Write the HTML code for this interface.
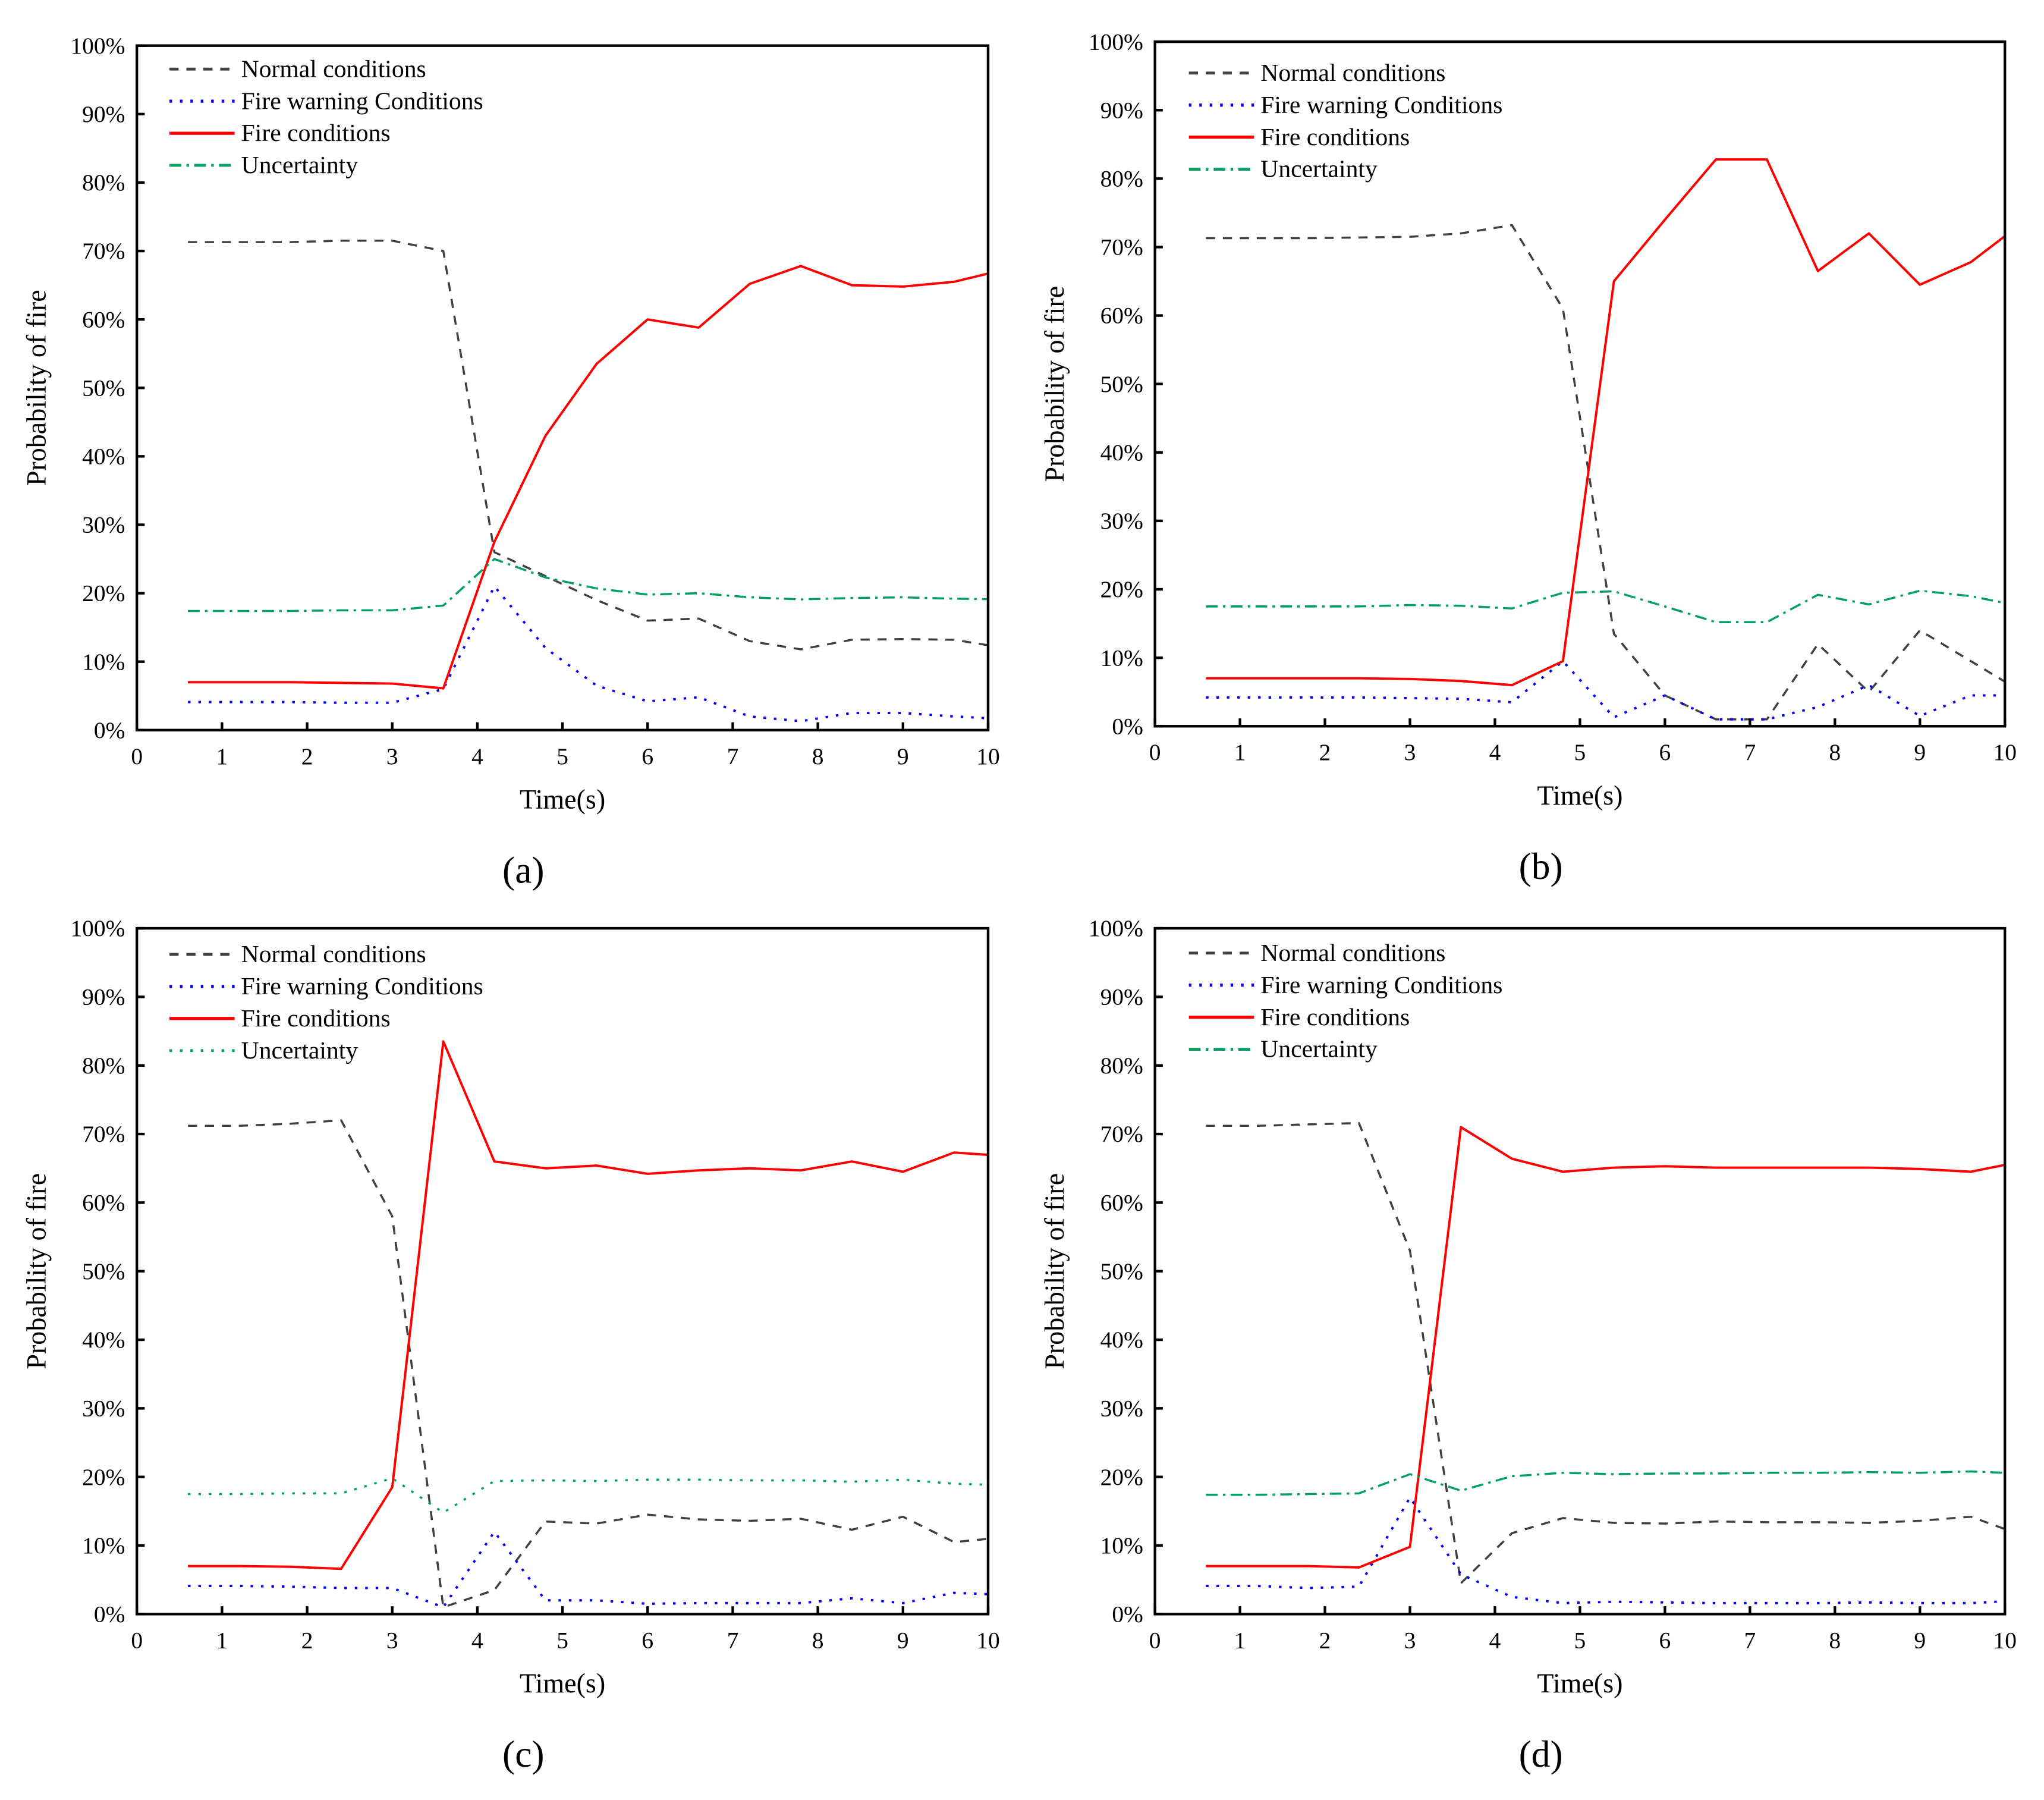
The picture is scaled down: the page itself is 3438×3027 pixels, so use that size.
<!DOCTYPE html>
<html><head><meta charset="utf-8"><style>
html,body{margin:0;padding:0;background:#fff;}
svg{display:block;font-family:"Liberation Serif",serif;}
svg text{font-family:"Liberation Serif",serif;}
</style></head><body>
<svg id="fig" width="3438" height="3027" viewBox="0 0 1568 1380.6" preserveAspectRatio="none" xmlns="http://www.w3.org/2000/svg"></svg>
<script>
const xs = [0.6,1.2,1.8,2.4,3.0,3.6,4.2,4.8,5.4,6.0,6.6,7.2,7.8,8.4,9.0,9.6,10.2];
const xTicks = [0,1,2,3,4,5,6,7,8,9,10];
const yTicks = [0,10,20,30,40,50,60,70,80,90,100];
const seriesNames = ["Normal conditions","Fire warning Conditions","Fire conditions","Uncertainty"];
const panelLabels = ["(a)","(b)","(c)","(d)"];

const aNormal = [71.3,71.3,71.3,71.5,71.5,70,26,22.5,19,16,16.3,13,11.8,13.2,13.3,13.2,12];
const aWarn = [4.1,4.1,4.1,4,4,6,21,12,6.5,4.2,4.8,2,1.3,2.5,2.5,2,1.6];
const aFire = [7,7,7,6.9,6.8,6.1,27.5,43,53.5,60,58.8,65.2,67.8,65,64.8,65.5,67.3];
const aUnc = [17.4,17.4,17.4,17.5,17.5,18.2,25,22.3,20.7,19.8,20,19.4,19.1,19.3,19.4,19.2,19.1];

const bNormal = [71.3,71.3,71.3,71.4,71.5,72,73.2,61,13.5,4.5,1,1,12,5,14,9.5,5];
const bWarn = [4.2,4.2,4.2,4.2,4.1,4,3.5,9.5,1.3,4.5,1,1,2.8,6,1.5,4.5,4.5];
const bFire = [7,7,7,7,6.9,6.6,6,9.5,65,74,82.8,82.8,66.5,72,64.5,67.8,73.5];
const bUnc = [17.5,17.5,17.5,17.5,17.7,17.6,17.2,19.5,19.7,17.5,15.2,15.2,19.2,17.8,19.8,19,17.5];

const cNormal = [71.2,71.2,71.5,72,58,1,3.5,13.5,13.2,14.5,13.8,13.6,13.9,12.3,14.2,10.5,11.2];
const cWarn = [4.1,4.1,4,3.8,3.8,1,12,2,2,1.5,1.6,1.6,1.6,2.3,1.6,3.1,2.8];
const cFire = [7,7,6.9,6.6,18.5,83.5,66,65,65.4,64.2,64.7,65,64.7,66,64.5,67.3,66.8];
const cUnc = [17.5,17.5,17.6,17.6,19.8,14.8,19.4,19.5,19.4,19.6,19.6,19.5,19.5,19.3,19.6,19,18.8];

const dNormal = [71.2,71.2,71.4,71.6,53,4.5,11.8,14,13.3,13.2,13.5,13.4,13.4,13.3,13.6,14.2,11.5];
const dWarn = [4.1,4.1,3.8,4,17,5.8,2.5,1.6,1.8,1.7,1.6,1.6,1.6,1.7,1.6,1.6,2];
const dFire = [7,7,7,6.8,9.8,71,66.4,64.5,65.1,65.3,65.1,65.1,65.1,65.1,64.9,64.5,66];
const dUnc = [17.4,17.4,17.5,17.6,20.4,18,20.1,20.6,20.4,20.5,20.5,20.6,20.6,20.7,20.6,20.8,20.5];

const NS = "http://www.w3.org/2000/svg";
const FF = '"Liberation Serif", serif';
const svg = document.getElementById("fig");
function mk(tag, attrs, parent){
  const e = document.createElementNS(NS, tag);
  for (const k in attrs) e.setAttribute(k, attrs[k]);
  if (tag === "text") e.setAttribute("font-family", FF);
  (parent||svg).appendChild(e);
  return e;
}
const styles = [
  {stroke:"#404040", dash:"7,6", w:1.6},
  {stroke:"#0000ff", dash:"2,6", w:1.8},
  {stroke:"#ff0000", dash:"", w:1.8},
  {stroke:"#00a060", dash:"9,4,2,4", w:1.6}
];
const panels = [
  {L:105,R:758,T:35,B:560, data:[aNormal,aWarn,aFire,aUnc], lx:130, ly:53, uncDash:"9,4,2,4"},
  {L:886,R:1538,T:32,B:557, data:[bNormal,bWarn,bFire,bUnc], lx:912, ly:56, uncDash:"9,4,2,4"},
  {L:105,R:758,T:712,B:1238, data:[cNormal,cWarn,cFire,cUnc], lx:130, ly:732, uncDash:"2,6"},
  {L:886,R:1538,T:712,B:1238, data:[dNormal,dWarn,dFire,dUnc], lx:912, ly:731, uncDash:"9,4,2,4"}
];
panels.forEach((p,pi)=>{
  const g = mk("g",{});
  
  
  const xS = v => p.L + (v/10)*(p.R-p.L);
  const yS = v => p.B - (v/100)*(p.B-p.T);
  const cid = "clip"+pi;
  const cp = mk("clipPath",{id:cid},g);
  mk("rect",{x:p.L,y:p.T,width:p.R-p.L,height:p.B-p.T},cp);
  p.data.forEach((arr,si)=>{
    const st = styles[si];
    const pts = arr.map((v,i)=>xS(xs[i]).toFixed(2)+","+yS(v).toFixed(2)).join(" ");
    const pl = mk("polyline",{points:pts,fill:"none",stroke:st.stroke,"stroke-width":st.w,"stroke-dasharray":si===3?p.uncDash:st.dash,"clip-path":"url(#"+cid+")","stroke-linejoin":"round"},g);
    
    
  });
  const fr = mk("rect",{x:p.L,y:p.T,width:p.R-p.L,height:p.B-p.T,fill:"none",stroke:"#000","stroke-width":2},g);
  
  
  xTicks.forEach(t=>{
    mk("line",{x1:xS(t),x2:xS(t),y1:p.B,y2:p.B-6,stroke:"#000","stroke-width":2},g);
    const tx = mk("text",{x:xS(t),y:p.B+26,"text-anchor":"middle","font-size":18},g);
    tx.textContent = t;
    
    
  });
  yTicks.forEach(t=>{
    mk("line",{x1:p.L,x2:p.L+6,y1:yS(t),y2:yS(t),stroke:"#000","stroke-width":2},g);
    const tx = mk("text",{x:p.L-9,y:yS(t)+6,"text-anchor":"end","font-size":18},g);
    tx.textContent = t+"%";
    
    
  });
  const xt = mk("text",{x:(p.L+p.R)/2,y:p.B+60,"text-anchor":"middle","font-size":21},g);
  xt.textContent = "Time(s)";
  
  
  const ycx = p.L-70, ycy = (p.T+p.B)/2;
  const yt = mk("text",{x:ycx,y:ycy,"text-anchor":"middle","font-size":21,transform:"rotate(-90 "+ycx+" "+ycy+")"},g);
  yt.textContent = "Probability of fire";
  
  
  const pl = mk("text",{x:(p.L+p.R)/2-30,y:p.B+117,"text-anchor":"middle","font-size":29},g);
  pl.textContent = panelLabels[pi];
  
  
  seriesNames.forEach((n,si)=>{
    const st = styles[si];
    const y = p.ly + si*24.6;
    const lg = mk("g",{},g);
    
    
    mk("line",{x1:p.lx,x2:p.lx+50,y1:y,y2:y,stroke:st.stroke,"stroke-width":st.w+0.6,"stroke-dasharray":si===3?p.uncDash:st.dash},lg);
    const t = mk("text",{x:p.lx+55,y:y+6,"font-size":19},lg);
    t.textContent = n;
  });
});
</script>
</body></html>
